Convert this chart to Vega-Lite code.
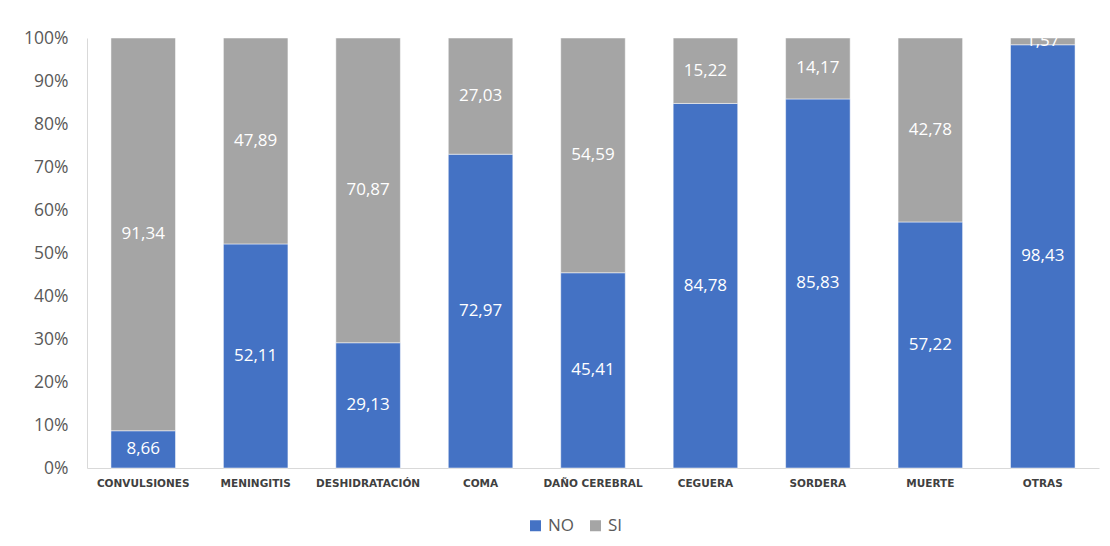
{
  "$schema": "https://vega.github.io/schema/vega-lite/v6.json",
  "autosize": "none",
  "width": 1012,
  "height": 430,
  "padding": {"left": 87, "top": 38, "right": 11, "bottom": 78},
  "background": "white",
  "config": {
    "locale": {"number": {"decimal": ",", "thousands": ".", "grouping": [3], "currency": ["", " €"]}},
    "view": {"stroke": null},
    "font": "Open Sans"
  },
  "data": {
    "values": [
      {"cat": "CONVULSIONES", "serie": "NO", "v": 8.66},
      {"cat": "CONVULSIONES", "serie": "SI", "v": 91.34},
      {"cat": "MENINGITIS", "serie": "NO", "v": 52.11},
      {"cat": "MENINGITIS", "serie": "SI", "v": 47.89},
      {"cat": "DESHIDRATACIÓN", "serie": "NO", "v": 29.13},
      {"cat": "DESHIDRATACIÓN", "serie": "SI", "v": 70.87},
      {"cat": "COMA", "serie": "NO", "v": 72.97},
      {"cat": "COMA", "serie": "SI", "v": 27.03},
      {"cat": "DAÑO CEREBRAL", "serie": "NO", "v": 45.41},
      {"cat": "DAÑO CEREBRAL", "serie": "SI", "v": 54.59},
      {"cat": "CEGUERA", "serie": "NO", "v": 84.78},
      {"cat": "CEGUERA", "serie": "SI", "v": 15.22},
      {"cat": "SORDERA", "serie": "NO", "v": 85.83},
      {"cat": "SORDERA", "serie": "SI", "v": 14.17},
      {"cat": "MUERTE", "serie": "NO", "v": 57.22},
      {"cat": "MUERTE", "serie": "SI", "v": 42.78},
      {"cat": "OTRAS", "serie": "NO", "v": 98.43},
      {"cat": "OTRAS", "serie": "SI", "v": 1.57}
    ]
  },
  "transform": [
    {"stack": "v", "groupby": ["cat"], "sort": [{"field": "serie", "order": "ascending"}], "offset": "normalize", "as": ["y0", "y1"]},
    {"calculate": "(datum.y0 + datum.y1) / 2", "as": "ymid"}
  ],
  "encoding": {
    "x": {
      "field": "cat", "type": "nominal", "sort": null,
      "scale": {"paddingInner": 0.426, "paddingOuter": 0.213},
      "axis": {
        "title": null, "labelAngle": 0, "ticks": false,
        "domainColor": "#D9D9D9", "domainWidth": 1,
        "labelFont": "DejaVu Sans", "labelFontSize": 10.5, "labelFontWeight": "bold",
        "labelColor": "#404040", "labelPadding": 10
      }
    }
  },
  "layer": [
    {
      "mark": {"type": "bar", "stroke": "#FFFFFF", "strokeWidth": 0.5},
      "encoding": {
        "y": {
          "field": "y0", "type": "quantitative",
          "scale": {"domain": [0, 1]},
          "axis": {
            "title": null, "format": ".0%", "values": [0, 0.1, 0.2, 0.3, 0.4, 0.5, 0.6, 0.7, 0.8, 0.9, 1],
            "labelOverlap": false, "grid": false, "ticks": false, "domain": true, "domainColor": "#D9D9D9",
            "labelFontSize": 17.5, "labelColor": "#595959", "labelPadding": 19
          }
        },
        "y2": {"field": "y1"},
        "color": {
          "field": "serie", "type": "nominal",
          "scale": {"domain": ["NO", "SI"], "range": ["#4472C4", "#A5A5A5"]},
          "legend": {
            "title": null, "orient": "none", "legendX": 440, "legendY": 479, "padding": 0,
            "direction": "horizontal",
            "symbolType": "square", "symbolSize": 121, "symbolStrokeWidth": 0,
            "labelFontSize": 17, "labelColor": "#595959", "labelOffset": 4, "columnPadding": 12
          }
        }
      }
    },
    {
      "mark": {"type": "text", "color": "white", "fontSize": 17, "clip": true},
      "encoding": {
        "y": {"field": "ymid", "type": "quantitative"},
        "text": {"field": "v", "type": "quantitative", "format": ".2f"}
      }
    }
  ]
}
